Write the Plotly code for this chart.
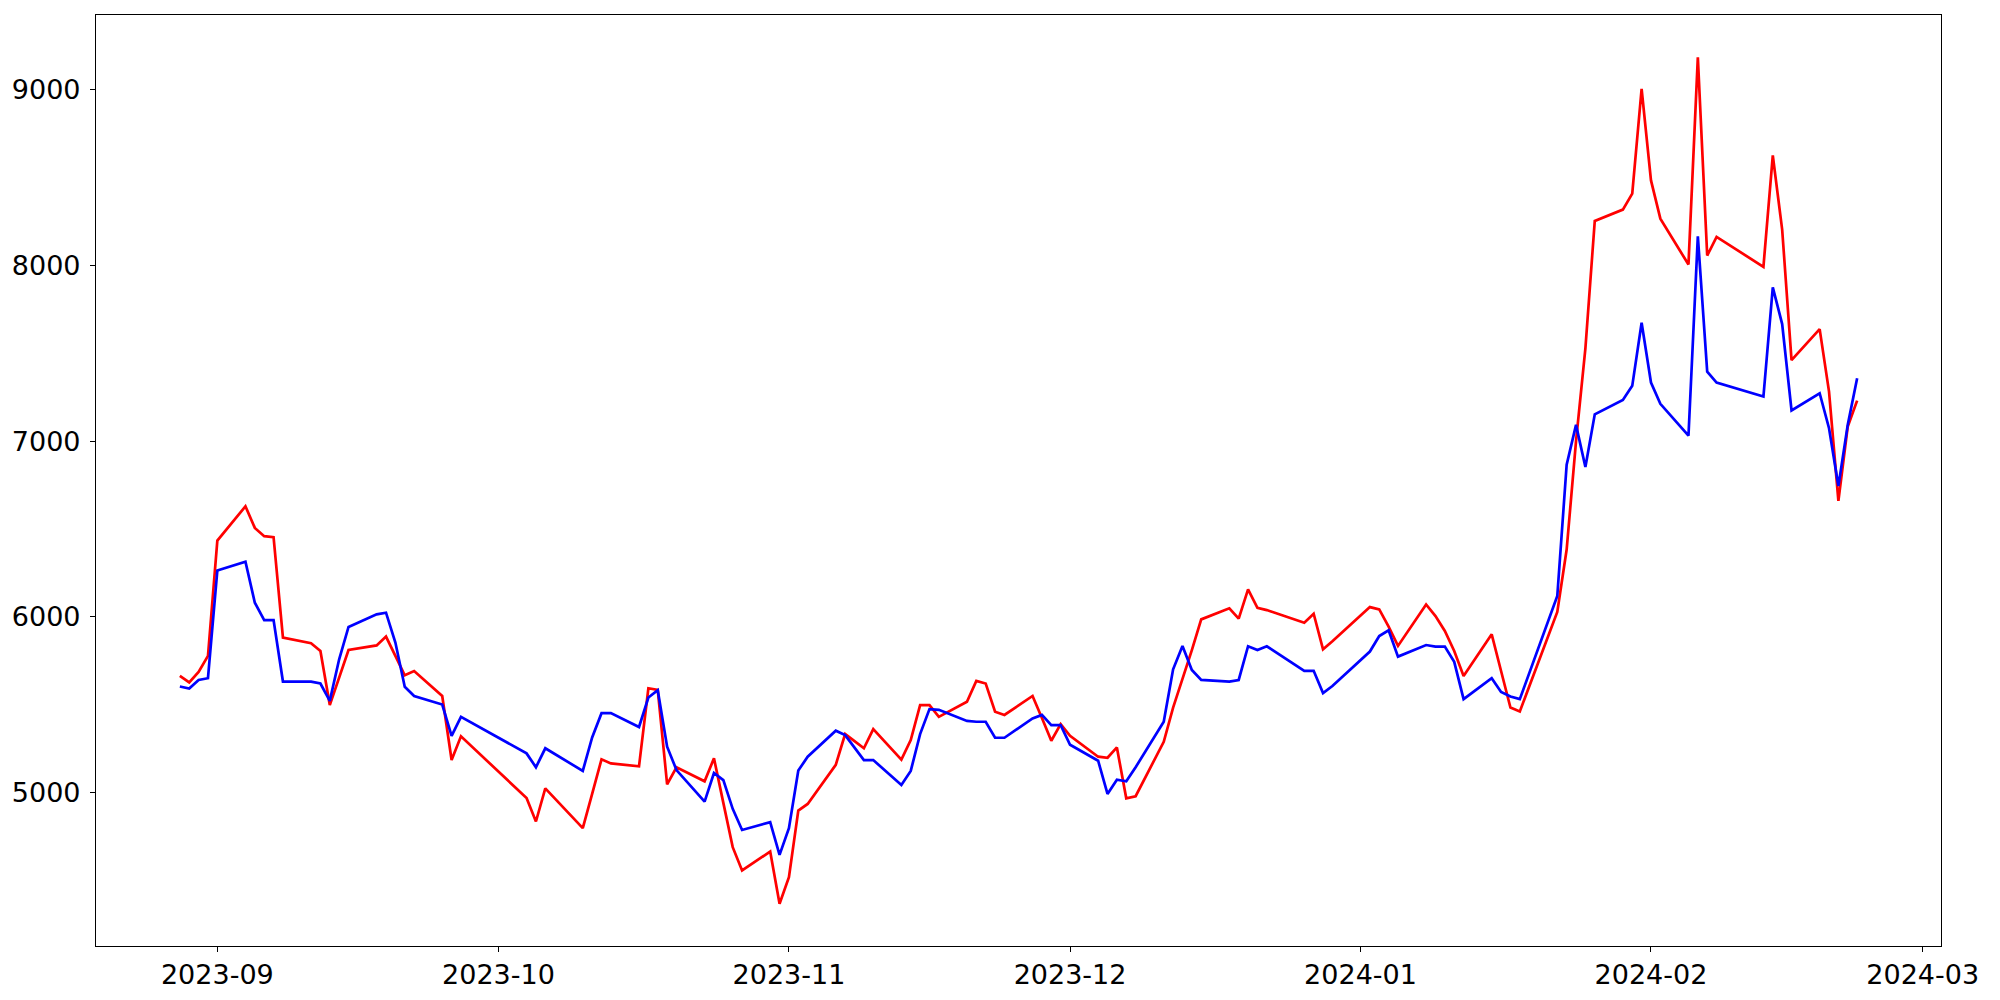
import plotly.graph_objects as go
import pandas as pd

dates = [
    "2023-08-28", "2023-08-29", "2023-08-30", "2023-08-31",
    "2023-09-01", "2023-09-04", "2023-09-05", "2023-09-06", "2023-09-07", "2023-09-08",
    "2023-09-11", "2023-09-12", "2023-09-13", "2023-09-14", "2023-09-15",
    "2023-09-18", "2023-09-19", "2023-09-20", "2023-09-21", "2023-09-22",
    "2023-09-25", "2023-09-26", "2023-09-27",
    "2023-10-04", "2023-10-05", "2023-10-06",
    "2023-10-10", "2023-10-11", "2023-10-12", "2023-10-13",
    "2023-10-16", "2023-10-17", "2023-10-18", "2023-10-19", "2023-10-20",
    "2023-10-23", "2023-10-24", "2023-10-25", "2023-10-26", "2023-10-27",
    "2023-10-30", "2023-10-31",
    "2023-11-01", "2023-11-02", "2023-11-03",
    "2023-11-06", "2023-11-07", "2023-11-08", "2023-11-09", "2023-11-10",
    "2023-11-13", "2023-11-14", "2023-11-15", "2023-11-16", "2023-11-17",
    "2023-11-20", "2023-11-21", "2023-11-22", "2023-11-23", "2023-11-24",
    "2023-11-27", "2023-11-28", "2023-11-29", "2023-11-30",
    "2023-12-01", "2023-12-04", "2023-12-05", "2023-12-06", "2023-12-07", "2023-12-08",
    "2023-12-11", "2023-12-12", "2023-12-13", "2023-12-14", "2023-12-15",
    "2023-12-18", "2023-12-19", "2023-12-20", "2023-12-21", "2023-12-22",
    "2023-12-26", "2023-12-27", "2023-12-28", "2023-12-29",
    "2024-01-02", "2024-01-03", "2024-01-04", "2024-01-05",
    "2024-01-08", "2024-01-09", "2024-01-10", "2024-01-11", "2024-01-12",
    "2024-01-15", "2024-01-16", "2024-01-17", "2024-01-18",
    "2024-01-22", "2024-01-23", "2024-01-24", "2024-01-25", "2024-01-26",
    "2024-01-29", "2024-01-30", "2024-01-31",
    "2024-02-01", "2024-02-02",
    "2024-02-05", "2024-02-06", "2024-02-07", "2024-02-08",
    "2024-02-13", "2024-02-14", "2024-02-15", "2024-02-16",
    "2024-02-19", "2024-02-20", "2024-02-21", "2024-02-22", "2024-02-23",
]

red_values = [
    5663, 5626, 5686, 5777,
    6434, 6629, 6506, 6459, 6453, 5881,
    5849, 5805, 5497, 5652, 5811,
    5837, 5887, 5777, 5667, 5691,
    5549, 5184, 5319,
    4968, 4834, 5023,
    4796, 4991, 5188, 5165,
    5148, 5593, 5584, 5046, 5143,
    5063, 5194, 4940, 4688, 4555,
    4663, 4366,
    4517, 4896, 4934,
    5157, 5332, 5292, 5251, 5360,
    5186, 5298, 5497, 5497, 5430,
    5516, 5635, 5620, 5459, 5441,
    5549, 5423, 5294, 5389,
    5322, 5203, 5197, 5256, 4966, 4978,
    5288, 5483, 5645, 5810, 5985,
    6048, 5989, 6156, 6051, 6038,
    5966, 6017, 5815, 5860,
    6055, 6042, 5944, 5834,
    6070, 6004, 5919, 5805, 5663,
    5900, 5691, 5483, 5461,
    6027, 6383, 7000, 7529, 8254,
    8319, 8410, 9006,
    8485, 8267,
    8006, 9186, 8057, 8163,
    7993, 8627, 8205, 7462,
    7638, 7282, 6660, 7084, 7231,
]

blue_values = [
    5603, 5591, 5640, 5650,
    6264, 6313, 6080, 5981, 5981, 5631,
    5631, 5620, 5521, 5758, 5942,
    6014, 6023, 5853, 5601, 5549,
    5500, 5322, 5430,
    5222, 5143, 5251,
    5122, 5313, 5451, 5451,
    5372, 5540, 5582, 5260, 5127,
    4947, 5110, 5070, 4906, 4786,
    4830, 4644,
    4796, 5124, 5203,
    5351, 5326, 5254, 5184, 5184,
    5042, 5122, 5332, 5474, 5470,
    5407, 5402, 5402, 5311, 5311,
    5421, 5441, 5383, 5383,
    5271, 5180, 4991, 5072, 5063, 5143,
    5402, 5701, 5834, 5697, 5640,
    5631, 5640, 5832, 5811, 5832,
    5692, 5692, 5565, 5606,
    5802, 5890, 5923, 5773,
    5839, 5830, 5830, 5743, 5531,
    5650, 5572, 5546, 5531,
    6118, 6866, 7093, 6853, 7153,
    7235, 7315, 7674,
    7334, 7213,
    7031, 8167, 7396, 7334,
    7254, 7876, 7667, 7175,
    7273, 7074, 6745, 7093, 7358,
]

x = pd.to_datetime(dates)

fig = go.Figure()
fig.add_trace(go.Scatter(x=x, y=red_values, mode="lines",
                         line=dict(color="#ff0000", width=2.7), showlegend=False))
fig.add_trace(go.Scatter(x=x, y=blue_values, mode="lines",
                         line=dict(color="#0000ff", width=2.7), showlegend=False))

# matplotlib-like 5% margins
xmin, xmax = x.min(), x.max()
xpad = (xmax - xmin) * 0.05
allv = red_values + blue_values
ymin, ymax = min(allv), max(allv)
ypad = (ymax - ymin) * 0.05

font = dict(family="DejaVu Sans", size=27, color="black")

fig.update_layout(
    width=2000, height=1000,
    margin=dict(l=88, r=67, t=7, b=62, pad=0, autoexpand=False),
    paper_bgcolor="white", plot_bgcolor="white",
    font=font,
)
fig.update_xaxes(
    range=[xmin - xpad, xmax + xpad],
    tick0="2023-09-01", dtick="M1", tickformat="%Y-%m",
    showgrid=False, zeroline=False,
    showline=True, mirror=True, linecolor="black", linewidth=1.1,
    ticks="outside", ticklen=5, tickwidth=1.1, tickcolor="black",
    tickfont=font, ticklabelstandoff=0,
)
fig.update_yaxes(
    range=[ymin - ypad, ymax + ypad],
    tick0=5000, dtick=1000, tickformat="d",
    showgrid=False, zeroline=False,
    showline=True, mirror=True, linecolor="black", linewidth=1.1,
    ticks="outside", ticklen=5, tickwidth=1.1, tickcolor="black",
    tickfont=font, ticklabelstandoff=4,
)

fig.write_html("out.html")
